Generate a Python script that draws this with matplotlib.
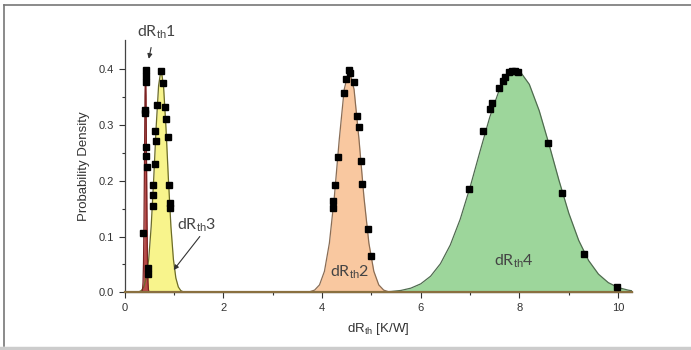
import matplotlib
matplotlib.use("Agg")
import matplotlib.pyplot as plt
from matplotlib.lines import Line2D

plt.rcParams["font.family"] = ["Liberation Sans", "DejaVu Sans"]
plt.rcParams["mathtext.fontset"] = "custom"
plt.rcParams["mathtext.rm"] = "Liberation Sans"

# fitted density curves
x1 = [0.335, 0.345, 0.355, 0.365, 0.375, 0.385, 0.395, 0.405, 0.415, 0.425,
      0.435, 0.445, 0.455, 0.465, 0.475, 0.485, 0.495, 0.505, 0.515]
y1 = [0.0, 0.0001, 0.0009, 0.0044, 0.0176, 0.0541, 0.1299, 0.2426, 0.353, 0.4,
      0.353, 0.2426, 0.1299, 0.0541, 0.0176, 0.0044, 0.0009, 0.0001, 0.0]

x3 = [0.29, 0.34, 0.39, 0.44, 0.49, 0.54, 0.59, 0.64, 0.69, 0.74,
      0.79, 0.84, 0.89, 0.94, 0.99, 1.04, 1.09, 1.14, 1.19]
y3 = [0.0008, 0.0030, 0.0095, 0.0256, 0.0594, 0.118, 0.2013, 0.2948, 0.3706, 0.4,
      0.3706, 0.2948, 0.2013, 0.118, 0.0594, 0.0256, 0.0095, 0.0030, 0.0008]

x2 = [3.75, 3.85, 3.95, 4.05, 4.15, 4.25, 4.35, 4.45, 4.55,
      4.65, 4.75, 4.85, 4.95, 5.05, 5.15, 5.25, 5.35]
y2 = [0.0009, 0.0039, 0.0133, 0.0377, 0.0882, 0.1708, 0.2741, 0.3639, 0.4,
      0.3639, 0.2741, 0.1708, 0.0882, 0.0377, 0.0133, 0.0039, 0.0009]

x4 = [5.0, 5.2, 5.4, 5.6, 5.8, 6.0, 6.2, 6.4, 6.6, 6.8, 7.0, 7.2, 7.4, 7.6,
      7.8, 8.0, 8.2, 8.4, 8.6, 8.8, 9.0, 9.2, 9.4, 9.6, 9.8, 10.0, 10.2, 10.27]
y4 = [0.0002, 0.0006, 0.0014, 0.0033, 0.0074, 0.0151, 0.0288, 0.0513, 0.085,
      0.131, 0.1885, 0.2523, 0.3145, 0.3652, 0.3949, 0.3977, 0.3731, 0.3259,
      0.2652, 0.201, 0.1418, 0.0932, 0.0571, 0.0326, 0.0173, 0.0085, 0.0039, 0.0028]

# measured points
px1 = [0.43, 0.43, 0.43, 0.42, 0.415, 0.445, 0.43, 0.455, 0.38, 0.48, 0.485]
py1 = [0.399, 0.388, 0.378, 0.327, 0.321, 0.261, 0.2445, 0.224, 0.107, 0.043, 0.032]

px3 = [0.74, 0.787, 0.665, 0.82, 0.84, 0.618, 0.875, 0.638, 0.618,
       0.584, 0.90, 0.571, 0.571, 0.92, 0.92]
py3 = [0.397, 0.375, 0.336, 0.333, 0.31, 0.289, 0.278, 0.271, 0.23,
       0.1925, 0.1925, 0.1745, 0.154, 0.16, 0.152]

px2 = [4.55, 4.56, 4.48, 4.64, 4.44, 4.71, 4.74, 4.33, 4.79, 4.265, 4.82,
       4.23, 4.23, 4.93, 5.0]
py2 = [0.399, 0.394, 0.382, 0.378, 0.357, 0.317, 0.297, 0.243, 0.236, 0.1925,
       0.195, 0.163, 0.152, 0.113, 0.065]

px4 = [6.97, 7.27, 7.41, 7.45, 7.59, 7.66, 7.71, 7.79, 7.85, 7.91, 7.98,
       8.57, 8.87, 9.31, 9.97]
py4 = [0.185, 0.289, 0.328, 0.339, 0.367, 0.3796, 0.3856, 0.396, 0.3975,
       0.3975, 0.396, 0.267, 0.178, 0.069, 0.0095]

fig = plt.figure(figsize=(6.91, 3.5), dpi=100)

# grey frame around the picture
for xs, ys, c, lw in [([0.006, 0.006], [0.012, 0.986], "#777777", 1.2),
                      ([0.006, 1.0], [0.986, 0.986], "#777777", 1.2),
                      ([0.0, 1.0], [0.007, 0.007], "#cccccc", 2.5)]:
    fig.add_artist(Line2D(xs, ys, color=c, lw=lw, transform=fig.transFigure))

ax = fig.add_axes([0.1802, 0.1649, 0.7337, 0.7208])

curves = [
    (x4, y4, "#9dd69b", "#4f6b4f"),
    (x2, y2, "#f9c8a0", "#8a6d55"),
    (x3, y3, "#f8f48c", "#6b6b2a"),
    (x1, y1, "#b94a48", "#7a2222"),
]
for xs, ys, fc, lc in curves:
    ax.fill_between(xs, ys, 0, color=fc, lw=0, zorder=2)
    ax.plot(xs, ys, color=lc, lw=0.9, zorder=3)

ax.plot([0, 10.27], [0, 0], color="#8a7040", lw=1.6, zorder=3, clip_on=False)

for xs, ys in [(px1, py1), (px3, py3), (px2, py2), (px4, py4)]:
    ax.plot(xs, ys, "s", color="black", markersize=4.6, zorder=4, clip_on=False)

lab = dict(fontsize=11.5, color="#444444", ha="center", va="center",
           family=["Lato", "DejaVu Sans"])
ax.text(0.64, 0.466, r"dR$_{\mathrm{th}}$1", clip_on=False, **lab)
ax.text(1.47, 0.12, r"dR$_{\mathrm{th}}$3", **lab)
ax.text(4.57, 0.037, r"dR$_{\mathrm{th}}$2", **lab)
ax.text(7.88, 0.055, r"dR$_{\mathrm{th}}$4", **lab)

arr = dict(arrowstyle="-|>", color="#333333", lw=0.8, mutation_scale=7)
ax.annotate("", xy=(0.48, 0.414), xytext=(0.55, 0.444), arrowprops=arr,
            annotation_clip=False)
ax.annotate("", xy=(0.96, 0.036), xytext=(1.56, 0.104), arrowprops=arr)

ax.set_xlim(0, 10.27)
ax.set_ylim(0, 0.4526)
ax.set_xticks([0, 2, 4, 6, 8, 10])
ax.set_xticks([1, 3, 5, 7, 9], minor=True)
ax.set_yticks([0.0, 0.1, 0.2, 0.3, 0.4])
ax.set_yticks([0.05, 0.15, 0.25, 0.35], minor=True)
ax.set_yticklabels(["0.0", "0.1", "0.2", "0.3", "0.4"])
ax.tick_params(which="major", direction="out", length=4, width=0.8,
               labelsize=8, colors="#333333")
ax.tick_params(which="minor", direction="out", length=2, width=0.8,
               colors="#333333")
for s in ["top", "right"]:
    ax.spines[s].set_visible(False)
for s in ["left", "bottom"]:
    ax.spines[s].set_color("#444444")
    ax.spines[s].set_linewidth(0.9)

ax.set_xlabel(r"dR$_{\mathrm{th}}$ [K/W]", fontsize=9.5, color="#333333", labelpad=6)
ax.set_ylabel("Probability Density", fontsize=9.5, color="#333333", labelpad=6)

fig.savefig("out.png", dpi=100)
